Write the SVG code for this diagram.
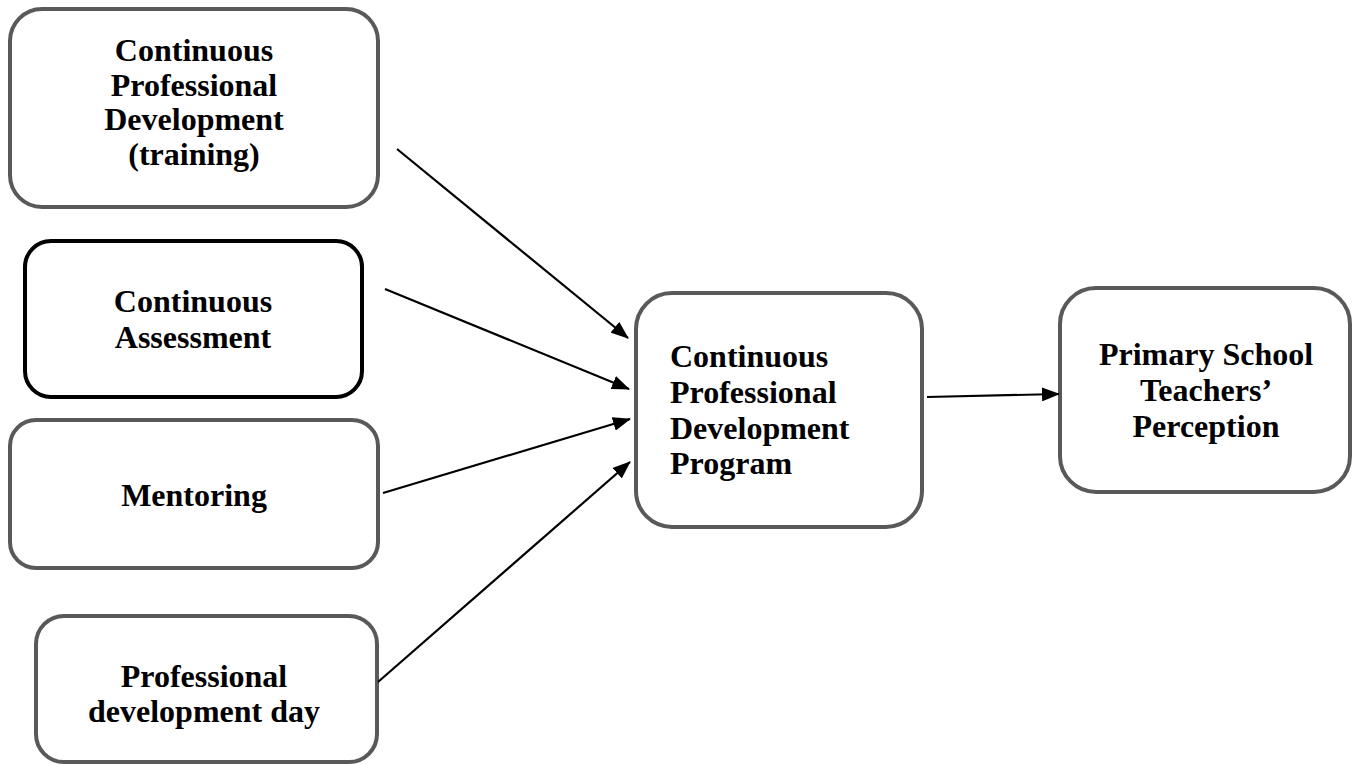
<svg xmlns="http://www.w3.org/2000/svg" width="1354" height="765" viewBox="0 0 1354 765">
<style>
.box{fill:#fff;stroke:#595959;stroke-width:4}
.dark{stroke:#000}
.t{font-family:"Liberation Serif","Times New Roman",serif;font-weight:bold;font-size:32px;fill:#000}
.c{text-anchor:middle}
.edge{stroke:#000;stroke-width:2.2;fill:none;marker-end:url(#ah)}
</style>
<defs>
<marker id="ah" markerUnits="userSpaceOnUse" markerWidth="18" markerHeight="14" viewBox="0 0 18 14" refX="17" refY="7" orient="auto">
<path d="M0,0 L18,7 L0,14 Z" fill="#000"/>
</marker>
</defs>
<rect width="1354" height="765" fill="#fff"/>
<g id="n1">
<rect class="box" x="10" y="9" width="368" height="198" rx="32"/>
<text class="t c" x="194" y="61">Continuous</text>
<text class="t c" x="194" y="96">Professional</text>
<text class="t c" x="194" y="130">Development</text>
<text class="t c" x="194" y="165">(training)</text>
</g>
<g id="n2">
<rect class="box dark" x="25" y="241" width="337" height="156" rx="26"/>
<text class="t c" x="193" y="312">Continuous</text>
<text class="t c" x="193" y="348">Assessment</text>
</g>
<g id="n3">
<rect class="box" x="10" y="420" width="368" height="148" rx="26"/>
<text class="t c" x="194" y="506">Mentoring</text>
</g>
<g id="n4">
<rect class="box" x="36" y="616" width="341" height="146" rx="28"/>
<text class="t c" x="204" y="687">Professional</text>
<text class="t c" x="204" y="722">development day</text>
</g>
<g id="n5">
<rect class="box" x="636" y="293" width="286" height="234" rx="36"/>
<text class="t" x="670" y="367">Continuous</text>
<text class="t" x="670" y="403">Professional</text>
<text class="t" x="670" y="439">Development</text>
<text class="t" x="670" y="474">Program</text>
</g>
<g id="n6">
<rect class="box" x="1060" y="288" width="290" height="204" rx="36"/>
<text class="t c" x="1206" y="365">Primary School</text>
<text class="t c" x="1206" y="401">Teachers’</text>
<text class="t c" x="1206" y="437">Perception</text>
</g>
<g id="connectors">
<line class="edge" x1="397" y1="149" x2="628" y2="338"/>
<line class="edge" x1="385" y1="289" x2="629" y2="389"/>
<line class="edge" x1="383" y1="493" x2="630" y2="419"/>
<line class="edge" x1="378" y1="682" x2="630" y2="462"/>
<line class="edge" x1="927" y1="397" x2="1059" y2="394"/>
</g>
</svg>
